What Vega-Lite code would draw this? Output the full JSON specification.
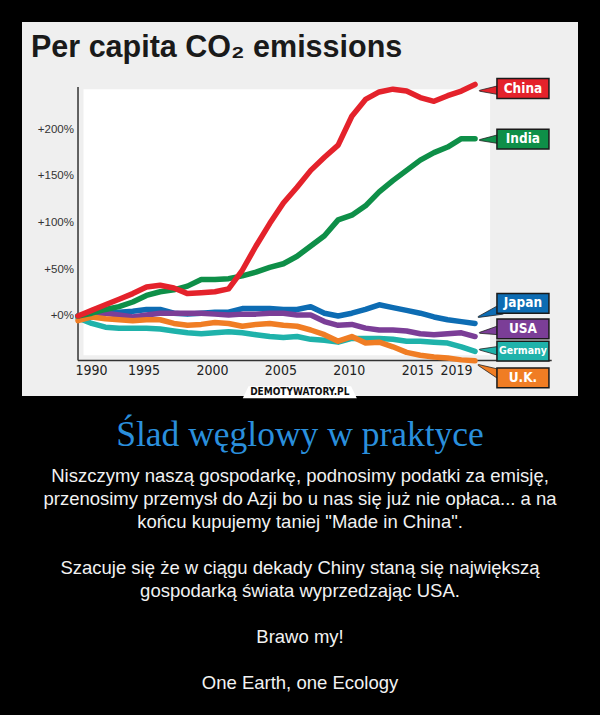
{
  "$schema": "https://vega.github.io/schema/vega-lite/v6.json",
  "background": "#000000",
  "padding": {"left": 22, "right": 22, "top": 22, "bottom": 30},
  "title": {
    "text": "Ślad węglowy w praktyce",
    "subtitle": [
      "Niszczymy naszą gospodarkę, podnosimy podatki za emisję,",
      "przenosimy przemysł do Azji bo u nas się już nie opłaca... a na",
      "końcu kupujemy taniej \"Made in China\".",
      "\u200b",
      "Szacuje się że w ciągu dekady Chiny staną się największą",
      "gospodarką świata wyprzedzając USA.",
      "\u200b",
      "Brawo my!",
      "\u200b",
      "One Earth, one Ecology"
    ],
    "orient": "bottom",
    "anchor": "middle",
    "offset": 20,
    "font": "Liberation Serif",
    "fontSize": 35.5,
    "fontWeight": "normal",
    "color": "#2a8fdc",
    "subtitleFont": "Liberation Sans",
    "subtitleFontSize": 18.5,
    "subtitleColor": "#f2f2f2",
    "subtitleLineHeight": 23,
    "subtitlePadding": 13
  },
  "datasets": {
    "emissions": [
      {"year": 1990, "China": 0, "India": 0, "Japan": 0, "USA": 0, "Germany": -2, "UK": -5},
      {"year": 1991, "China": 6, "India": 3, "Japan": 1, "USA": 1, "Germany": -8, "UK": -1},
      {"year": 1992, "China": 12, "India": 7, "Japan": 3, "USA": 3, "Germany": -12, "UK": -3},
      {"year": 1993, "China": 18, "India": 10, "Japan": 4, "USA": 1, "Germany": -13, "UK": -4},
      {"year": 1994, "China": 24, "India": 15, "Japan": 5, "USA": -1, "Germany": -13, "UK": -5},
      {"year": 1995, "China": 31, "India": 22, "Japan": 7, "USA": 1, "Germany": -13, "UK": -4},
      {"year": 1996, "China": 33, "India": 26, "Japan": 7, "USA": 3, "Germany": -14, "UK": -4},
      {"year": 1997, "China": 30, "India": 28, "Japan": 3, "USA": 3, "Germany": -16, "UK": -8},
      {"year": 1998, "China": 24, "India": 32, "Japan": 2, "USA": 3, "Germany": -18, "UK": -10},
      {"year": 1999, "China": 25, "India": 39, "Japan": 3, "USA": 3, "Germany": -19, "UK": -9},
      {"year": 2000, "China": 26, "India": 39, "Japan": 4, "USA": 2, "Germany": -18, "UK": -7},
      {"year": 2001, "China": 29, "India": 40, "Japan": 4, "USA": 1, "Germany": -17, "UK": -8},
      {"year": 2002, "China": 49, "India": 43, "Japan": 8, "USA": 2, "Germany": -18, "UK": -11},
      {"year": 2003, "China": 75, "India": 47, "Japan": 8, "USA": 2, "Germany": -20, "UK": -9},
      {"year": 2004, "China": 99, "India": 52, "Japan": 8, "USA": 3, "Germany": -22, "UK": -8},
      {"year": 2005, "China": 121, "India": 56, "Japan": 7, "USA": 3, "Germany": -23, "UK": -10},
      {"year": 2006, "China": 138, "India": 64, "Japan": 7, "USA": 1, "Germany": -22, "UK": -11},
      {"year": 2007, "China": 156, "India": 75, "Japan": 10, "USA": 1, "Germany": -25, "UK": -15},
      {"year": 2008, "China": 170, "India": 86, "Japan": 3, "USA": -6, "Germany": -26, "UK": -20},
      {"year": 2009, "China": 183, "India": 103, "Japan": 0, "USA": -10, "Germany": -28, "UK": -27},
      {"year": 2010, "China": 214, "India": 108, "Japan": 3, "USA": -9, "Germany": -24, "UK": -22},
      {"year": 2011, "China": 232, "India": 118, "Japan": 7, "USA": -13, "Germany": -24, "UK": -29},
      {"year": 2012, "China": 240, "India": 133, "Japan": 12, "USA": -15, "Germany": -24, "UK": -28},
      {"year": 2013, "China": 243, "India": 145, "Japan": 9, "USA": -15, "Germany": -25, "UK": -33},
      {"year": 2014, "China": 241, "India": 156, "Japan": 6, "USA": -16, "Germany": -27, "UK": -39},
      {"year": 2015, "China": 234, "India": 167, "Japan": 3, "USA": -19, "Germany": -27, "UK": -42},
      {"year": 2016, "China": 230, "India": 175, "Japan": -1, "USA": -20, "Germany": -28, "UK": -44},
      {"year": 2017, "China": 236, "India": 181, "Japan": -4, "USA": -19, "Germany": -29, "UK": -45},
      {"year": 2018, "China": 241, "India": 190, "Japan": -6, "USA": -18, "Germany": -33, "UK": -47},
      {"year": 2019, "China": 248, "India": 190, "Japan": -8, "USA": -22, "Germany": -38, "UK": -48}
    ],
    "labels": [
      {"country": "China", "label": "China", "lpct": 243.7},
      {"country": "India", "label": "India", "lpct": 189.6},
      {"country": "Japan", "label": "Japan", "lpct": 13.4},
      {"country": "USA", "label": "USA", "lpct": -13.9},
      {"country": "Germany", "label": "Germany", "lpct": -37.5},
      {"country": "UK", "label": "U.K.", "lpct": -66.4}
    ],
    "pointers": [
      {"country": "China", "part": "tip", "year": 2019.35, "pct": 241.3},
      {"country": "China", "part": "base", "year": 2020.9, "pct": 242},
      {"country": "India", "part": "tip", "year": 2019.35, "pct": 188.5},
      {"country": "India", "part": "base", "year": 2020.9, "pct": 189.6},
      {"country": "Japan", "part": "tip", "year": 2019.25, "pct": -1},
      {"country": "Japan", "part": "base", "year": 2020.9, "pct": 7},
      {"country": "USA", "part": "tip", "year": 2019.35, "pct": -18},
      {"country": "USA", "part": "base", "year": 2020.9, "pct": -15},
      {"country": "Germany", "part": "tip", "year": 2019.35, "pct": -36},
      {"country": "Germany", "part": "base", "year": 2020.9, "pct": -37.5},
      {"country": "UK", "part": "tip", "year": 2019.25, "pct": -52.5},
      {"country": "UK", "part": "base", "year": 2020.9, "pct": -63}
    ],
    "watermark": [
      {"text": "DEMOTYWATORY.PL", "year": 2006.2, "pct": -81.4}
    ]
  },
  "vconcat": [
    {
      "width": 556,
      "height": 374,
      "view": {"fill": "#efefef", "stroke": null},
      "title": {
        "text": "Per capita CO₂ emissions",
        "orient": "top",
        "anchor": "start",
        "frame": "group",
        "offset": 0,
        "dx": 9,
        "dy": 65,
        "baseline": "alphabetic",
        "font": "Liberation Sans",
        "fontSize": 30.5,
        "fontWeight": "bold",
        "color": "#1a1a1a"
      },
      "resolve": {"axis": {"x": "independent", "y": "independent"}},
      "layer": [
        {
          "data": {"values": [{}]},
          "mark": {"type": "rect", "fill": "#ffffff"},
          "encoding": {
            "x": {"datum": 1990.4, "type": "quantitative", "scale": {"domain": [1985.909, 2026.52], "nice": false, "zero": false}, "axis": null},
            "x2": {"datum": 2020.1},
            "y": {"datum": -42, "type": "quantitative", "scale": {"domain": [-85.7, 314.94], "nice": false, "zero": false}, "axis": null},
            "y2": {"datum": 243}
          }
        },
        {
          "data": {"values": [{}]},
          "mark": {"type": "rule", "color": "#333333", "strokeWidth": 1.5},
          "encoding": {
            "x": {"datum": 1990, "type": "quantitative", "scale": {"domain": [1985.909, 2026.52], "nice": false, "zero": false}, "axis": null},
            "y": {"datum": 245.3, "type": "quantitative", "scale": {"domain": [-85.7, 314.94], "nice": false, "zero": false}, "axis": null},
            "y2": {"datum": -47.7}
          }
        },
        {
          "data": {"values": [{}]},
          "mark": {"type": "rule", "color": "#333333", "strokeWidth": 1.5},
          "encoding": {
            "x": {"datum": 1990, "type": "quantitative", "scale": {"domain": [1985.909, 2026.52], "nice": false, "zero": false}, "axis": null},
            "x2": {"datum": 2024.6},
            "y": {"datum": -47.7, "type": "quantitative", "scale": {"domain": [-85.7, 314.94], "nice": false, "zero": false}, "axis": null}
          }
        },
        {
          "data": {"name": "emissions"},
          "transform": [
            {"fold": ["Germany", "Japan", "USA", "UK", "India", "China"], "as": ["country", "pct"]}
          ],
          "mark": {"type": "line", "strokeWidth": 5.5, "strokeCap": "round", "strokeJoin": "round"},
          "encoding": {
            "x": {
              "field": "year", "type": "quantitative",
              "scale": {"domain": [1985.909, 2026.52], "nice": false, "zero": false},
              "axis": {
                "values": [1990, 1995, 2000, 2005, 2010, 2015, 2019],
                "format": "d", "domain": false, "ticks": false, "grid": false, "title": null,
                "orient": "bottom", "offset": -35.5, "labelPadding": 3,
                "labelFont": "DejaVu Sans Condensed, Roboto Condensed, Liberation Sans Narrow, Roboto, sans-serif", "labelFontSize": 14, "labelColor": "#222222",
                "labelBaseline": "top", "labelOffset": -3, "labelFlush": false, "labelOverlap": false, "labelBound": false,
                "labelAlign": {"condition": [{"test": "datum.value == 1990", "value": "left"}, {"test": "datum.value == 2019", "value": "right"}], "value": "center"}
              }
            },
            "y": {
              "field": "pct", "type": "quantitative",
              "scale": {"domain": [-85.7, 314.94], "nice": false, "zero": false},
              "axis": {
                "values": [0, 50, 100, 150, 200],
                "labelExpr": "'+' + datum.value + '%'",
                "domain": false, "ticks": false, "grid": false, "title": null,
                "orient": "left", "offset": -56.5, "labelPadding": 5,
                "labelFont": "Liberation Sans", "labelFontSize": 11.5, "labelColor": "#333333"
              }
            },
            "color": {
              "field": "country", "type": "nominal",
              "scale": {"domain": ["China", "India", "Japan", "USA", "Germany", "UK"], "range": ["#e4222b", "#0e8f48", "#0d6cb3", "#7b3e97", "#1fb2aa", "#f07d24"]},
              "legend": null
            }
          }
        },
        {
          "data": {"name": "pointers"},
          "mark": {"type": "trail", "stroke": "#222222", "strokeWidth": 0.8},
          "encoding": {
            "x": {"field": "year", "type": "quantitative", "scale": {"domain": [1985.909, 2026.52], "nice": false, "zero": false}, "axis": null},
            "y": {"field": "pct", "type": "quantitative", "scale": {"domain": [-85.7, 314.94], "nice": false, "zero": false}, "axis": null},
            "color": {"field": "country", "type": "nominal", "legend": null},
            "size": {"field": "part", "type": "ordinal", "scale": {"domain": ["tip", "base"], "range": [1, 10]}, "legend": null}
          }
        },
        {
          "data": {"name": "labels"},
          "mark": {"type": "point", "shape": "M0,-0.38H2V0.38H0Z", "size": 2704, "filled": true, "opacity": 1, "stroke": "#1a1a1a", "strokeWidth": 1.5},
          "encoding": {
            "x": {"datum": 2020.6, "type": "quantitative", "scale": {"domain": [1985.909, 2026.52], "nice": false, "zero": false}, "axis": null},
            "y": {"field": "lpct", "type": "quantitative", "scale": {"domain": [-85.7, 314.94], "nice": false, "zero": false}, "axis": null},
            "color": {"field": "country", "type": "nominal", "legend": null}
          }
        },
        {
          "data": {"name": "labels"},
          "mark": {"type": "text", "dx": 26, "align": "center", "baseline": "middle", "font": "DejaVu Sans Condensed, Roboto Condensed, Liberation Sans Narrow, Roboto, sans-serif", "fontWeight": "bold", "color": "#ffffff"},
          "encoding": {
            "x": {"datum": 2020.6, "type": "quantitative", "scale": {"domain": [1985.909, 2026.52], "nice": false, "zero": false}, "axis": null},
            "y": {"field": "lpct", "type": "quantitative", "scale": {"domain": [-85.7, 314.94], "nice": false, "zero": false}, "axis": null},
            "text": {"field": "label"},
            "size": {"condition": {"test": "datum.country === 'Germany'", "value": 10.5}, "value": 13.5}
          }
        },
        {
          "data": {"name": "watermark"},
          "mark": {"type": "point", "shape": "M-1,0.11L-0.9,-0.1H0.9L1,0.11Z", "size": 12996, "filled": true, "opacity": 1, "color": "#ffffff"},
          "encoding": {
            "x": {"field": "year", "type": "quantitative", "scale": {"domain": [1985.909, 2026.52], "nice": false, "zero": false}, "axis": null},
            "y": {"field": "pct", "type": "quantitative", "scale": {"domain": [-85.7, 314.94], "nice": false, "zero": false}, "axis": null}
          }
        },
        {
          "data": {"name": "watermark"},
          "mark": {"type": "text", "align": "center", "baseline": "middle", "font": "DejaVu Sans Condensed, Roboto Condensed, Liberation Sans Narrow, Roboto, sans-serif", "fontWeight": "bold", "fontSize": 10, "color": "#111111"},
          "encoding": {
            "x": {"field": "year", "type": "quantitative", "scale": {"domain": [1985.909, 2026.52], "nice": false, "zero": false}, "axis": null},
            "y": {"field": "pct", "type": "quantitative", "scale": {"domain": [-85.7, 314.94], "nice": false, "zero": false}, "axis": null},
            "text": {"field": "text"}
          }
        }
      ]
    }
  ],
  "config": {
    "view": {"stroke": null},
    "font": "Liberation Sans"
  }
}
